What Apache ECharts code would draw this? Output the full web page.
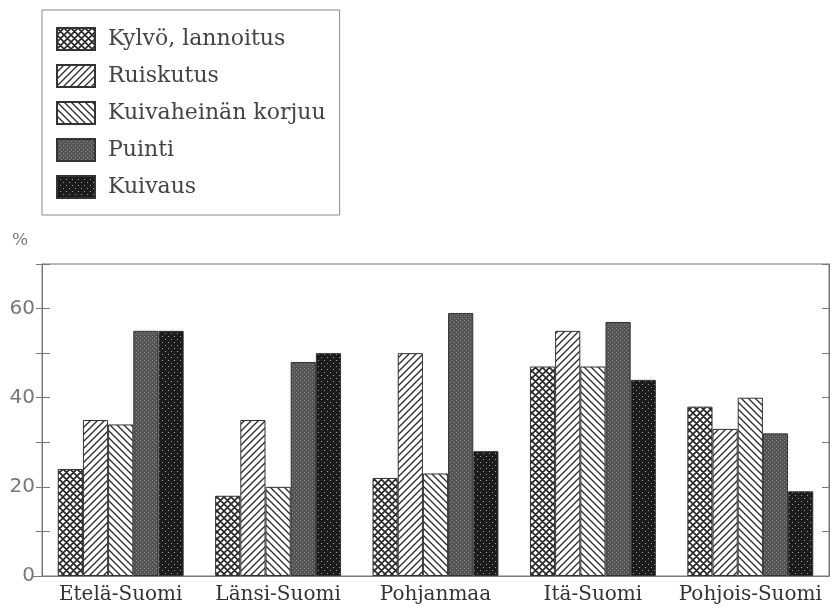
<!DOCTYPE html>
<html>
<head>
<meta charset="utf-8">
<script src="https://cdn.jsdelivr.net/npm/echarts@6/dist/echarts.min.js"></script>
<style>
  html, body { margin: 0; padding: 0; background: #fff; }
  #chart { width: 832px; height: 609px; }
</style>
</head>
<body>
<div id="chart"></div>
<script>
const categories = ['Etelä-Suomi', 'Länsi-Suomi', 'Pohjanmaa', 'Itä-Suomi', 'Pohjois-Suomi']
const seriesNames = ['Kylvö, lannoitus', 'Ruiskutus', 'Kuivaheinän korjuu', 'Puinti', 'Kuivaus']
const kylvo = [24, 18, 22, 47, 38]
const ruiskutus = [35, 35, 50, 55, 33]
const kuivaheina = [34, 20, 23, 47, 40]
const puinti = [55, 48, 59, 57, 32]
const kuivaus = [55, 50, 28, 44, 19]

// pattern tiles
function hatch(fwd, back, size, width) {
  const c = document.createElement('canvas')
  c.width = size
  c.height = size
  const ctx = c.getContext('2d')
  ctx.fillStyle = '#fff'
  ctx.fillRect(0, 0, size, size)
  ctx.strokeStyle = '#2a2a2a'
  ctx.lineWidth = width
  ctx.beginPath()
  if (fwd) {
    ctx.moveTo(0, size); ctx.lineTo(size, 0)
    ctx.moveTo(-1, 1); ctx.lineTo(1, -1)
    ctx.moveTo(size - 1, size + 1); ctx.lineTo(size + 1, size - 1)
  }
  if (back) {
    ctx.moveTo(0, 0); ctx.lineTo(size, size)
    ctx.moveTo(-1, size - 1); ctx.lineTo(1, size + 1)
    ctx.moveTo(size - 1, -1); ctx.lineTo(size + 1, 1)
  }
  ctx.stroke()
  return { image: c, repeat: 'repeat' }
}

function screen(bg, dot, step) {
  const c = document.createElement('canvas')
  c.width = step * 2
  c.height = step * 2
  const ctx = c.getContext('2d')
  ctx.fillStyle = bg
  ctx.fillRect(0, 0, c.width, c.height)
  ctx.fillStyle = dot
  ctx.fillRect(0, 0, 1, 1)
  ctx.fillRect(step, step, 1, 1)
  return { image: c, repeat: 'repeat' }
}

const fills = [
  hatch(true, true, 7, 1.7),
  hatch(true, false, 7, 1.3),
  hatch(false, true, 7, 1.3),
  screen('#555', '#8a8a8a', 2),
  screen('#1c1c1c', '#9a9a9a', 3)
]
const values = [kylvo, ruiskutus, kuivaheina, puinti, kuivaus]

const chart = echarts.init(document.getElementById('chart'))
chart.setOption({
  animation: false,
  grid: {
    left: 42,
    right: 3,
    top: 264,
    bottom: 33,
    show: true,
    borderColor: '#777',
    borderWidth: 1
  },
  legend: {
    orient: 'vertical',
    left: 42,
    top: 10,
    padding: [17, 14, 16, 14],
    itemGap: 13,
    itemWidth: 38,
    itemHeight: 22,
    icon: 'rect',
    borderColor: '#888',
    borderWidth: 1,
    textStyle: {
      fontFamily: 'DejaVu Serif',
      fontSize: 22,
      color: '#444',
      padding: [0, 0, 0, 8]
    },
    data: seriesNames
  },
  graphic: [
    {
      type: 'text',
      left: 12,
      top: 232,
      style: { text: '%', font: '17px DejaVu Serif', fill: '#777' }
    },
    {
      type: 'line',
      shape: { x1: 33, y1: 576.5, x2: 43, y2: 576.5 },
      style: { stroke: '#777', lineWidth: 1 }
    }
  ],
  xAxis: {
    type: 'category',
    data: categories,
    axisTick: { show: false },
    axisLine: { lineStyle: { color: '#777' } },
    axisLabel: {
      interval: 0,
      margin: 9,
      fontFamily: 'DejaVu Serif',
      fontSize: 20,
      color: '#333'
    }
  },
  yAxis: [
    {
      type: 'value',
      position: 'left',
      min: 0,
      max: 70,
      interval: 10,
      splitLine: { show: false },
      axisLine: { show: true, lineStyle: { color: '#777' } },
      axisTick: { show: true, length: 6, lineStyle: { color: '#777' } },
      axisLabel: {
        margin: 7,
        fontFamily: 'DejaVu Sans',
        fontSize: 20,
        color: '#777',
        formatter: v => (v % 20 === 0 ? v : '')
      }
    },
    {
      type: 'value',
      position: 'left',
      min: 0,
      max: 70,
      interval: 10,
      splitLine: { show: false },
      axisLine: { show: false },
      axisTick: { show: true, inside: true, length: 8, lineStyle: { color: '#777' } },
      axisLabel: { show: false }
    },
    {
      type: 'value',
      position: 'right',
      min: 0,
      max: 70,
      interval: 10,
      splitLine: { show: false },
      axisLine: { show: true, lineStyle: { color: '#777' } },
      axisTick: { show: true, inside: true, length: 7, lineStyle: { color: '#777' } },
      axisLabel: { show: false }
    }
  ],
  series: seriesNames.map((name, i) => ({
    name: name,
    type: 'bar',
    yAxisIndex: 0,
    data: values[i],
    barGap: 0,
    barCategoryGap: '20%',
    itemStyle: {
      color: fills[i],
      borderColor: '#333',
      borderWidth: 1
    }
  }))
})
</script>
</body>
</html>
